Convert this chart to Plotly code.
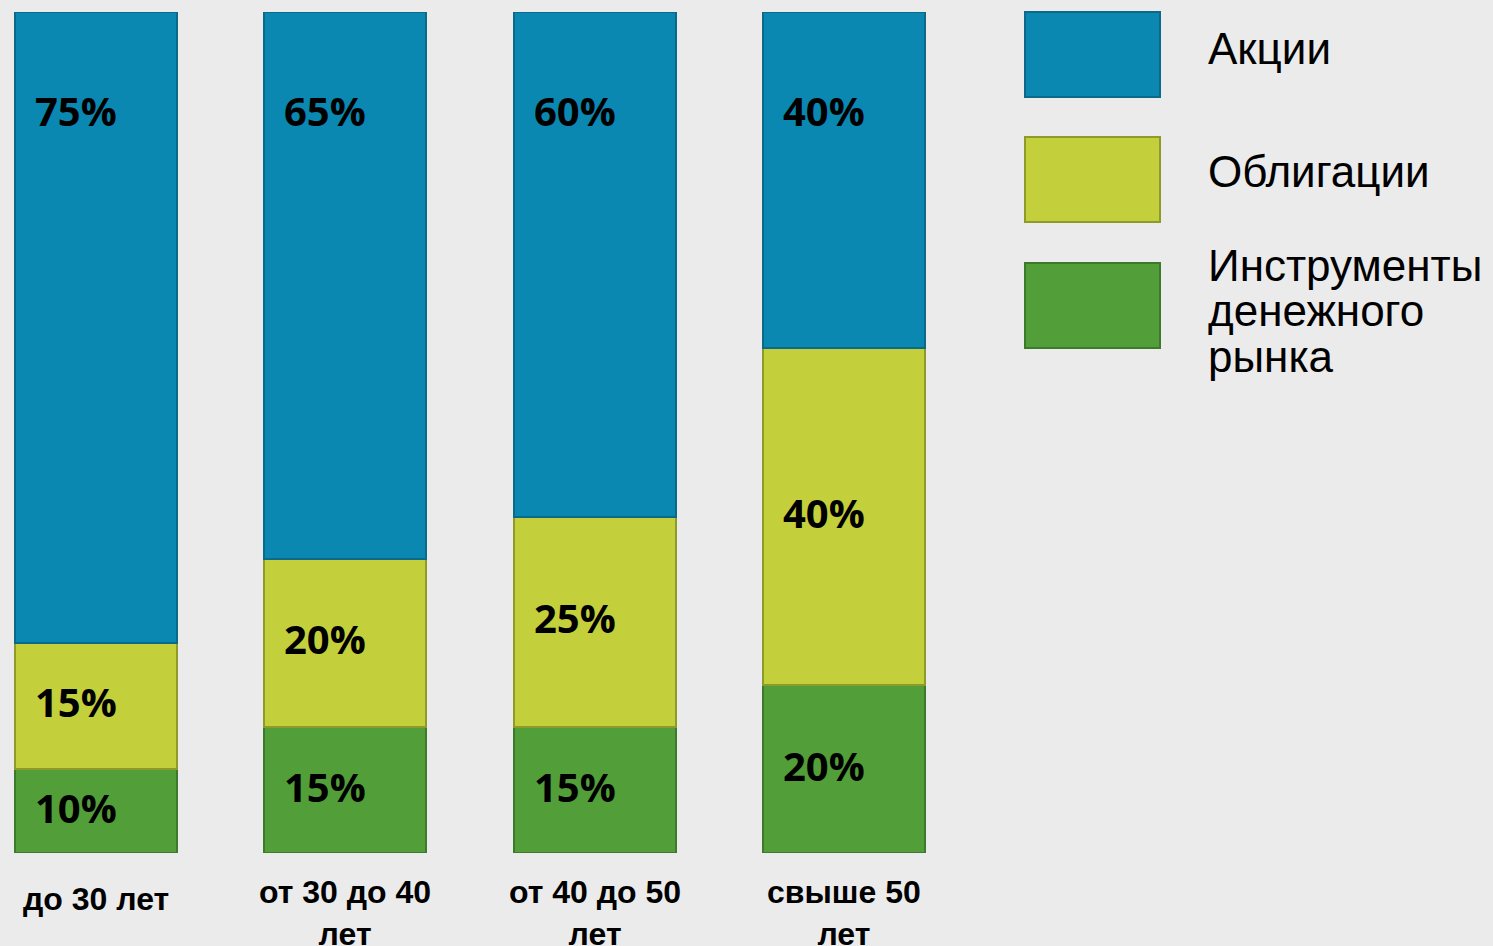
import plotly.graph_objects as go

categories = ["до 30 лет", "от 30 до 40<br>лет", "от 40 до 50<br>лет", "свыше 50<br>лет"]
stocks = [75, 65, 60, 40]
bonds = [15, 20, 25, 40]
money = [10, 15, 15, 20]
series_names = ["Акции", "Облигации", "Инструменты денежного рынка"]

fill = {"money": "#529E38", "bonds": "#C3D03B", "stocks": "#0A88B2"}
edge = {"money": "#3E7A2B", "bonds": "#8E9A2A", "stocks": "#0B6A8A"}

W, H = 1493, 946
top_px, bot_px = 12, 853
x_px0, step_px = 95.6, 249.5
bar_w = 162 / step_px
x_range = [-x_px0 / step_px, (W - x_px0) / step_px]

xs = list(range(len(categories)))
fig = go.Figure()
fig.add_bar(x=xs, y=money, name=series_names[2], width=bar_w,
            marker=dict(color=fill["money"], line=dict(color=edge["money"], width=2)))
fig.add_bar(x=xs, y=bonds, name=series_names[1], width=bar_w,
            marker=dict(color=fill["bonds"], line=dict(color=edge["bonds"], width=2)))
fig.add_bar(x=xs, y=stocks, name=series_names[0], width=bar_w,
            marker=dict(color=fill["stocks"], line=dict(color=edge["stocks"], width=2)))

lab_font = dict(family="Open Sans", size=40, color="black", weight="bold")
cat_font = dict(family="Liberation Sans", size=32, color="black", weight="bold")
ann = []
for i in xs:
    ann.append(dict(x=i, y=money[i] / 2, text=f"{money[i]}%", showarrow=False,
                    xshift=-20, yshift=3, font=lab_font))
    ann.append(dict(x=i, y=money[i] + bonds[i] / 2, text=f"{bonds[i]}%", showarrow=False,
                    xshift=-20, yshift=4, font=lab_font))
    ann.append(dict(x=i, y=100, text=f"{stocks[i]}%", showarrow=False,
                    xshift=-20, yshift=-98, font=lab_font))
    single = "<br>" not in categories[i]
    ann.append(dict(x=i, y=0, text=categories[i], showarrow=False, yanchor="top",
                    yshift=-26 if single else -19, font=cat_font))

def py(p):
    return (bot_px - p) / (bot_px - top_px)

leg_font = dict(family="Liberation Sans", size=44, color="black")
legend_boxes = [(12, 97, "stocks"), (137, 222, "bonds"), (263, 348, "money")]
shapes = []
for y0, y1, k in legend_boxes:
    shapes.append(dict(type="rect", xref="paper", yref="paper",
                       x0=1025 / W, x1=1160 / W, y0=py(y1), y1=py(y0),
                       fillcolor=fill[k], line=dict(color=edge[k], width=2)))
legend_lines = [("Акции", 48), ("Облигации", 172), ("Инструменты", 265), ("денежного", 311), ("рынка", 356)]
for t, p in legend_lines:
    ann.append(dict(xref="paper", yref="paper", x=1206 / W, y=py(p), text=t, showarrow=False,
                    xanchor="left", yanchor="middle", font=leg_font))

fig.update_layout(
    barmode="stack", width=W, height=H, showlegend=False,
    paper_bgcolor="#EBEBEB", plot_bgcolor="#EBEBEB",
    margin=dict(l=0, r=0, t=top_px, b=H - bot_px),
    xaxis=dict(range=x_range, showgrid=False, zeroline=False, showticklabels=False, fixedrange=True),
    yaxis=dict(range=[0, 100], showgrid=False, zeroline=False, showticklabels=False, fixedrange=True),
    annotations=ann, shapes=shapes,
)
fig.write_html("out.html", config={"displayModeBar": False},
               post_script="document.body.style.margin='0';document.body.style.overflow='hidden';")
